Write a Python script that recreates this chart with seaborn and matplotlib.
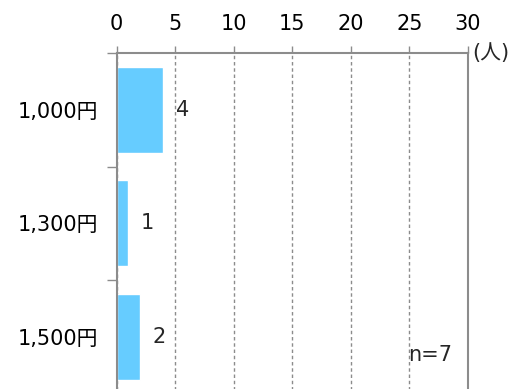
import pandas as pd
import matplotlib
matplotlib.use("Agg")
import matplotlib.pyplot as plt
import seaborn as sns

# --- data ---
prices = ['1,000円', '1,300円', '1,500円']
counts = [4, 1, 2]
x_ticks = [0, 5, 10, 15, 20, 25, 30]
unit_label = '(人)'
n_label = 'n=7'

df = pd.DataFrame({'price': prices, 'count': counts})

sns.set_theme(style="white")
plt.rcParams['font.family'] = ['DejaVu Sans', 'Noto Sans CJK JP']

grey = '#8c8c8c'
fs = 15

fig = plt.figure(figsize=(5.31, 3.89), dpi=100)
ax = fig.add_axes([116.5 / 531, -4.5 / 389, 351.5 / 531, 340.5 / 389])

sns.barplot(data=df, x='count', y='price', orient='h', color='#66CCFF',
            saturation=1, width=0.76, ax=ax)

ax.set_xlim(0, 30)
ax.set_ylim(2.5, -0.5)
ax.set_xticks(x_ticks)
ax.xaxis.tick_top()
ax.set_xlabel('')
ax.set_ylabel('')

# dashed vertical grid
ax.grid(axis='x', color=grey, linestyle=(0, (2.5, 2)), linewidth=1)
ax.set_axisbelow(True)

for side in ['top', 'left', 'right']:
    ax.spines[side].set_visible(True)
    ax.spines[side].set_color(grey)
    ax.spines[side].set_linewidth(1.5)
ax.spines['bottom'].set_visible(False)

ax.tick_params(axis='x', which='major', top=True, bottom=False, direction='out',
               length=5, width=1, color=grey, pad=9, labelsize=fs, labelcolor='black')
ax.tick_params(axis='y', which='major', left=False, pad=7, labelsize=fs,
               labelcolor='black')
ax.set_yticks([-0.5, 0.5, 1.5, 2.5], minor=True)
ax.tick_params(axis='y', which='minor', left=True, length=7, width=1, color=grey)

# value labels
for i, v in enumerate(counts):
    ax.text(v + 1.1, i, str(v), va='center', ha='left', fontsize=fs)

ax.text(1.012, 1.0, unit_label, transform=ax.transAxes, va='center', ha='left',
        fontsize=fs)
ax.text(0.829, 0.113, n_label, transform=ax.transAxes, va='center', ha='left',
        fontsize=fs)

fig.savefig('out.png', dpi=100)
